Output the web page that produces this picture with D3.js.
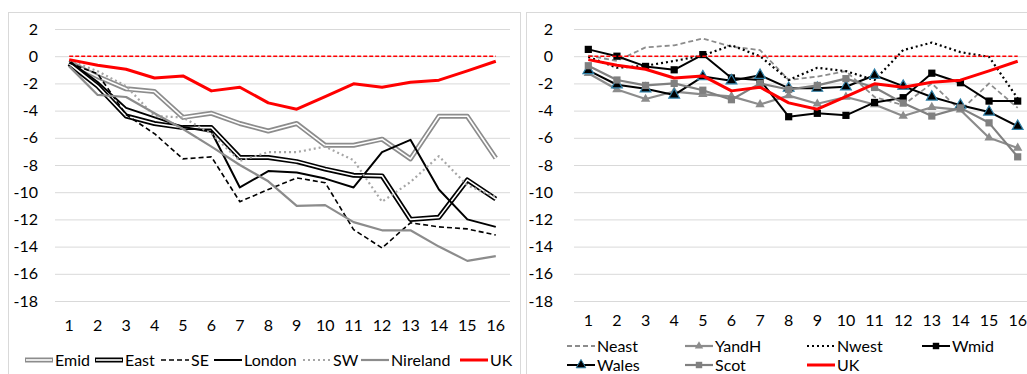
<!DOCTYPE html>
<html>
<head>
<meta charset="utf-8">
<script src="https://cdn.jsdelivr.net/npm/d3@7"></script>
<style>
  html, body { margin: 0; padding: 0; background: #fff; }
  svg { display: block; font-family: Lato, "Open Sans", sans-serif; }
</style>
</head>
<body>
<svg id="chart" width="1027" height="374"></svg>
<script>
// Periods along the horizontal axis
const periods = ["1","2","3","4","5","6","7","8","9","10","11","12","13","14","15","16"];
const yTicks = [2, 0, -2, -4, -6, -8, -10, -12, -14, -16, -18];

// UK average (shown in both panels)
const UK       = [-0.25, -0.66, -0.96, -1.6, -1.45, -2.55, -2.28, -3.43, -3.9, -2.97, -2.03, -2.28, -1.91, -1.76, -1.08, -0.37];
// Reference line at zero
const baseline = [0, 0, 0, 0, 0, 0, 0, 0, 0, 0, 0, 0, 0, 0, 0, 0];

// Left panel regions
const Emid     = [-0.45, -1.5, -2.4, -2.6, -4.5, -4.2, -4.95, -5.5, -4.95, -6.55, -6.55, -6.1, -7.55, -4.42, -4.42, -7.5];
const East     = [-0.55, -2.2, -4.4, -4.95, -5.25, -5.25, -7.45, -7.45, -7.75, -8.3, -8.75, -8.8, -12.0, -11.85, -9.1, -10.5];
const SE       = [-0.5, -1.3, -4.3, -5.7, -7.55, -7.4, -10.7, -9.8, -8.95, -9.3, -12.75, -14.1, -12.25, -12.55, -12.7, -13.15];
const London   = [-0.35, -1.9, -3.8, -4.5, -5.2, -5.55, -9.65, -8.45, -8.55, -9.0, -9.65, -7.05, -6.15, -9.8, -12.0, -12.55];
const SW       = [-0.3, -1.1, -2.2, -4.4, -4.5, -5.7, -7.7, -7.05, -7.05, -6.65, -7.65, -10.7, -9.25, -7.35, -9.5, -10.35];
const Nireland = [-0.75, -2.85, -3.0, -4.2, -5.35, -6.65, -8.0, -9.2, -11.0, -10.95, -12.2, -12.8, -12.8, -14.0, -15.05, -14.7];

// Right panel regions
const Neast    = [0.05, -0.35, 0.65, 0.8, 1.3, 0.7, 0.45, -1.75, -1.5, -1.1, -3.0, -3.6, -2.0, -4.0, -2.0, -3.8];
const YandH    = [-1.25, -2.45, -3.15, -2.6, -2.8, -2.95, -3.55, -2.9, -3.5, -3.0, -3.55, -4.4, -3.75, -3.95, -6.0, -6.75];
const Nwest    = [-0.05, -0.85, -0.7, -0.35, 0.05, 0.8, 0.0, -1.75, -0.85, -1.1, -1.75, 0.45, 1.0, 0.3, -0.05, -3.1];
const Wmid     = [0.5, 0.0, -0.75, -1.0, 0.12, -1.6, -1.75, -4.45, -4.2, -4.35, -3.4, -3.05, -1.25, -1.95, -3.3, -3.3];
const Wales    = [-1.05, -2.1, -2.4, -2.85, -1.5, -1.8, -1.4, -2.35, -2.35, -2.25, -1.4, -2.2, -3.0, -3.6, -4.1, -5.15];
const Scot     = [-0.7, -1.75, -2.15, -2.0, -2.5, -3.2, -2.0, -2.45, -2.15, -1.65, -2.3, -3.45, -4.4, -3.8, -4.9, -7.4];

const GRID = "#d9d9d9";
const svg = d3.select("#chart");

const leftSeries = [
  { name: "Emid",     values: Emid,     color: "#8c8c8c", width: 5,   inner: 1.6 },
  { name: "East",     values: East,     color: "#000",    width: 5,   inner: 1.6 },
  { name: "SE",       values: SE,       color: "#000",    width: 1.6, dash: "5,3" },
  { name: "London",   values: London,   color: "#000",    width: 2 },
  { name: "SW",       values: SW,       color: "#a6a6a6", width: 2.2, dash: "2,3" },
  { name: "Nireland", values: Nireland, color: "#8c8c8c", width: 2.2 },
  { name: "UK",       values: UK,       color: "#ff0000", width: 3 }
];

const rightSeries = [
  { name: "Neast", values: Neast, color: "#8c8c8c", width: 1.8, dash: "5,3" },
  { name: "YandH", values: YandH, color: "#8c8c8c", width: 2.2, marker: d3.symbolTriangle, msize: 38, mfill: "#8c8c8c" },
  { name: "Nwest", values: Nwest, color: "#000",    width: 2.2, dash: "2,3" },
  { name: "Wmid",  values: Wmid,  color: "#000",    width: 2,   marker: d3.symbolSquare, msize: 52, mfill: "#000" },
  { name: "Wales", values: Wales, color: "#000",    width: 2,   marker: d3.symbolTriangle, msize: 50, mfill: "#000", mstroke: "#2f7fa6" },
  { name: "Scot",  values: Scot,  color: "#808080", width: 2.2, marker: d3.symbolSquare, msize: 52, mfill: "#808080" },
  { name: "UK",    values: UK,    color: "#ff0000", width: 3 }
];

function drawPanel(cfg) {
  const g = svg.append("g");

  // chart frame
  g.append("rect")
    .attr("x", cfg.frame[0] + 0.5).attr("y", 12.5)
    .attr("width", cfg.frame[1]).attr("height", 380)
    .attr("fill", "#fff").attr("stroke", GRID).attr("stroke-width", 1);

  const x = d3.scaleBand().domain(periods).range([cfg.left, cfg.right]);
  const y = d3.scaleLinear().domain([-18, 2]).range([301, 29]);
  const cx = i => x(periods[i]) + x.bandwidth() / 2;

  // gridlines + value labels
  const ya = g.append("g")
    .attr("transform", `translate(${cfg.left},0)`)
    .call(d3.axisLeft(y).tickValues(yTicks).tickSize(-(cfg.right - cfg.left))
      .tickPadding(cfg.yPad).tickFormat(d => String(d)));
  ya.select(".domain").remove();
  ya.selectAll(".tick line").attr("stroke", GRID).attr("stroke-width", 1);
  ya.selectAll(".tick text").attr("fill", "#000").style("font-size", "16px")
    .style("font-family", "Lato, 'Open Sans', sans-serif");

  // period labels
  const xa = g.append("g")
    .attr("transform", "translate(0,301)")
    .call(d3.axisBottom(x).tickSize(0).tickPadding(cfg.xPad));
  xa.select(".domain").remove();
  xa.selectAll(".tick text").attr("fill", "#000").style("font-size", "16px")
    .style("font-family", "Lato, 'Open Sans', sans-serif");

  const line = d3.line().x((d, i) => cx(i)).y(d => y(d));

  cfg.series.forEach(s => {
    g.append("path").datum(s.values)
      .attr("d", line).attr("fill", "none")
      .attr("stroke", s.color).attr("stroke-width", s.width)
      .attr("stroke-dasharray", s.dash || null)
      .attr("stroke-linejoin", "round");
    if (s.inner) {
      g.append("path").datum(s.values)
        .attr("d", line).attr("fill", "none")
        .attr("stroke", "#fff").attr("stroke-width", s.inner)
        .attr("stroke-linejoin", "round");
    }
    if (s.marker) {
      g.selectAll(null).data(s.values).join("path")
        .attr("transform", (d, i) => `translate(${cx(i)},${y(d)})`)
        .attr("d", d3.symbol().type(s.marker).size(s.msize))
        .attr("fill", s.mfill)
        .attr("stroke", s.mstroke || "none").attr("stroke-width", 1.2);
    }
  });

  // zero reference line
  g.append("path").datum(baseline)
    .attr("d", line).attr("fill", "none")
    .attr("stroke", "#ff0000").attr("stroke-width", 1.6)
    .attr("stroke-dasharray", "4,2");

  // legend
  cfg.series.forEach((s, k) => {
    const [lx, ly] = cfg.legendPos(k);
    const lg = g.append("g").attr("transform", `translate(${lx},${ly})`);
    const len = 28;
    lg.append("line").attr("x1", 0).attr("x2", len).attr("y1", 0).attr("y2", 0)
      .attr("stroke", s.color).attr("stroke-width", s.width)
      .attr("stroke-dasharray", s.dash || null);
    if (s.inner) {
      lg.append("line").attr("x1", 1).attr("x2", len - 1).attr("y1", 0).attr("y2", 0)
        .attr("stroke", "#fff").attr("stroke-width", s.inner);
    }
    if (s.marker) {
      lg.append("path").attr("transform", `translate(${len / 2},0)`)
        .attr("d", d3.symbol().type(s.marker).size(s.msize * 0.8))
        .attr("fill", s.mfill)
        .attr("stroke", s.mstroke || "none").attr("stroke-width", 1);
    }
    lg.append("text").attr("x", len + 2).attr("y", 0).attr("dy", "0.35em")
      .style("font-size", "16px").attr("fill", "#000").text(s.name);
  });
}

const leftLegendX = [25, 95, 161, 214, 303, 361, 460];
drawPanel({
  frame: [8, 512], left: 55, right: 510, yPad: 17, xPad: 19,
  series: leftSeries,
  legendPos: k => [leftLegendX[k], 360]
});

const rightLegendX = [567, 685, 807, 922];
drawPanel({
  frame: [526, 520], left: 574, right: 1032, yPad: 21, xPad: 14,
  series: rightSeries,
  legendPos: k => [rightLegendX[k % 4], k < 4 ? 346 : 365]
});
</script>
</body>
</html>
